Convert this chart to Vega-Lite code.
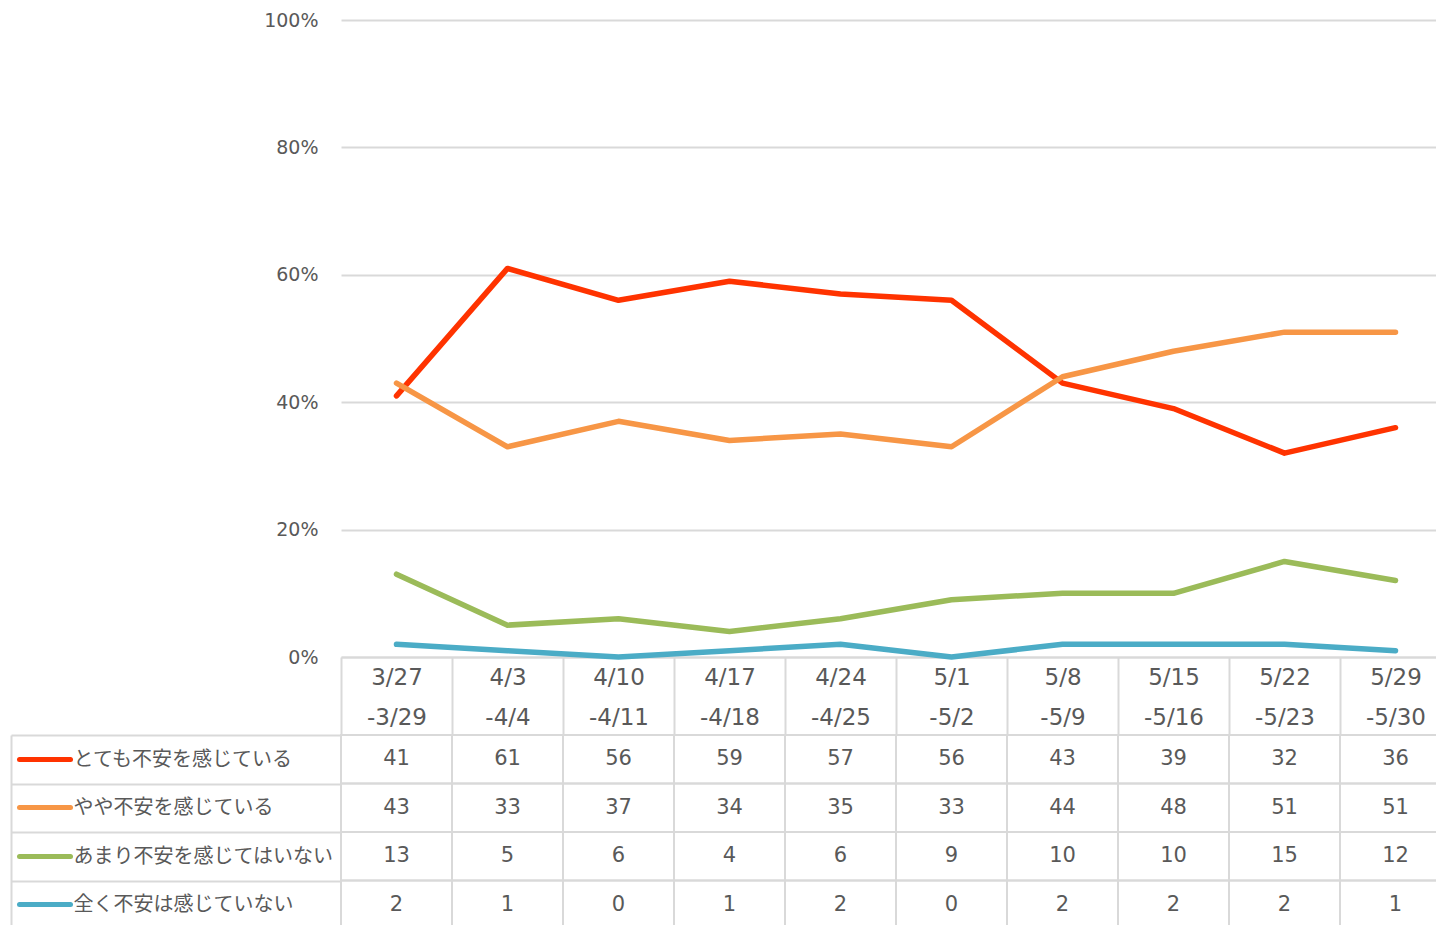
{
  "$schema": "https://vega.github.io/schema/vega-lite/v6.json",
  "background": "white",
  "padding": {"left": 10, "top": 11, "right": 0, "bottom": 0},
  "config": {"view": {"stroke": null}, "font": "DejaVu Sans, Noto Sans CJK JP"},
  "data": {"values": [
    {"period": "3/27|-3/29", "series": "とても不安を感じている", "value": 41},
    {"period": "4/3|-4/4", "series": "とても不安を感じている", "value": 61},
    {"period": "4/10|-4/11", "series": "とても不安を感じている", "value": 56},
    {"period": "4/17|-4/18", "series": "とても不安を感じている", "value": 59},
    {"period": "4/24|-4/25", "series": "とても不安を感じている", "value": 57},
    {"period": "5/1|-5/2", "series": "とても不安を感じている", "value": 56},
    {"period": "5/8|-5/9", "series": "とても不安を感じている", "value": 43},
    {"period": "5/15|-5/16", "series": "とても不安を感じている", "value": 39},
    {"period": "5/22|-5/23", "series": "とても不安を感じている", "value": 32},
    {"period": "5/29|-5/30", "series": "とても不安を感じている", "value": 36},
    {"period": "3/27|-3/29", "series": "やや不安を感じている", "value": 43},
    {"period": "4/3|-4/4", "series": "やや不安を感じている", "value": 33},
    {"period": "4/10|-4/11", "series": "やや不安を感じている", "value": 37},
    {"period": "4/17|-4/18", "series": "やや不安を感じている", "value": 34},
    {"period": "4/24|-4/25", "series": "やや不安を感じている", "value": 35},
    {"period": "5/1|-5/2", "series": "やや不安を感じている", "value": 33},
    {"period": "5/8|-5/9", "series": "やや不安を感じている", "value": 44},
    {"period": "5/15|-5/16", "series": "やや不安を感じている", "value": 48},
    {"period": "5/22|-5/23", "series": "やや不安を感じている", "value": 51},
    {"period": "5/29|-5/30", "series": "やや不安を感じている", "value": 51},
    {"period": "3/27|-3/29", "series": "あまり不安を感じてはいない", "value": 13},
    {"period": "4/3|-4/4", "series": "あまり不安を感じてはいない", "value": 5},
    {"period": "4/10|-4/11", "series": "あまり不安を感じてはいない", "value": 6},
    {"period": "4/17|-4/18", "series": "あまり不安を感じてはいない", "value": 4},
    {"period": "4/24|-4/25", "series": "あまり不安を感じてはいない", "value": 6},
    {"period": "5/1|-5/2", "series": "あまり不安を感じてはいない", "value": 9},
    {"period": "5/8|-5/9", "series": "あまり不安を感じてはいない", "value": 10},
    {"period": "5/15|-5/16", "series": "あまり不安を感じてはいない", "value": 10},
    {"period": "5/22|-5/23", "series": "あまり不安を感じてはいない", "value": 15},
    {"period": "5/29|-5/30", "series": "あまり不安を感じてはいない", "value": 12},
    {"period": "3/27|-3/29", "series": "全く不安は感じていない", "value": 2},
    {"period": "4/3|-4/4", "series": "全く不安は感じていない", "value": 1},
    {"period": "4/10|-4/11", "series": "全く不安は感じていない", "value": 0},
    {"period": "4/17|-4/18", "series": "全く不安は感じていない", "value": 1},
    {"period": "4/24|-4/25", "series": "全く不安は感じていない", "value": 2},
    {"period": "5/1|-5/2", "series": "全く不安は感じていない", "value": 0},
    {"period": "5/8|-5/9", "series": "全く不安は感じていない", "value": 2},
    {"period": "5/15|-5/16", "series": "全く不安は感じていない", "value": 2},
    {"period": "5/22|-5/23", "series": "全く不安は感じていない", "value": 2},
    {"period": "5/29|-5/30", "series": "全く不安は感じていない", "value": 1}
  ]},
  "bounds": "flush",
  "spacing": 78,
  "vconcat": [
    {
      "width": 1110,
      "height": 637,
      "mark": {"type": "line", "strokeWidth": 5.5, "strokeCap": "round", "strokeJoin": "round"},
      "encoding": {
        "x": {
          "field": "period", "type": "ordinal", "sort": null,
          "scale": {"type": "band", "paddingInner": 0, "paddingOuter": 0},
          "axis": {
            "title": null, "labelExpr": "split(datum.label, '|')", "labelAngle": 0,
            "labelFontSize": 23, "labelColor": "#595959", "labelLineHeight": 40,
            "labelBaseline": "middle", "labelPadding": -58, "labelOverlap": false,
            "tickBand": "extent", "tickSize": 78, "tickColor": "#d9d9d9", "tickWidth": 2,
            "domainColor": "#d9d9d9", "domainWidth": 2, "grid": false
          }
        },
        "y": {
          "field": "value", "type": "quantitative", "scale": {"domain": [0, 100]},
          "axis": {
            "title": null, "values": [0, 20, 40, 60, 80, 100], "labelExpr": "datum.value + '%'",
            "labelFontSize": 19, "labelColor": "#595959", "labelPadding": 23,
            "ticks": false, "domain": false, "gridColor": "#d9d9d9", "gridWidth": 2
          }
        },
        "color": {
          "field": "series", "type": "nominal",
          "scale": {
            "domain": ["とても不安を感じている", "やや不安を感じている", "あまり不安を感じてはいない", "全く不安は感じていない"],
            "range": ["#ff3300", "#f79646", "#9bbb59", "#4bacc6"]
          },
          "legend": null
        }
      }
    },
    {
      "width": 1110,
      "height": 194,
      "resolve": {"axis": {"y": "independent"}},
      "layer": [
        {
          "mark": {"type": "rect", "filled": false, "stroke": "#d9d9d9", "strokeWidth": 2},
          "encoding": {
            "x": {"field": "period", "type": "ordinal", "sort": null,
                  "scale": {"type": "band", "paddingInner": 0, "paddingOuter": 0}, "axis": null},
            "y": {
              "field": "series", "type": "nominal",
              "sort": ["とても不安を感じている", "やや不安を感じている", "あまり不安を感じてはいない", "全く不安は感じていない"],
              "scale": {"type": "band", "paddingInner": 0, "paddingOuter": 0},
              "axis": {
                "title": null, "orient": "left", "offset": 271, "labels": false, "domain": false, "grid": false,
                "tickSize": 51, "tickWidth": 5, "tickCap": "round",
                "tickColor": {"expr": "datum.value === 'とても不安を感じている' ? '#ff3300' : datum.value === 'やや不安を感じている' ? '#f79646' : datum.value === 'あまり不安を感じてはいない' ? '#9bbb59' : '#4bacc6'"}
              }
            }
          }
        },
        {
          "mark": {"type": "text", "fontSize": 21, "color": "#595959"},
          "encoding": {
            "x": {"field": "period", "type": "ordinal", "sort": null, "axis": null},
            "y": {
              "field": "series", "type": "nominal",
              "sort": ["とても不安を感じている", "やや不安を感じている", "あまり不安を感じてはいない", "全く不安は感じていない"],
              "axis": {
                "title": null, "orient": "right", "offset": -1440, "tickBand": "extent",
                "tickSize": 330, "tickColor": "#d9d9d9", "tickWidth": 2,
                "domainColor": "#d9d9d9", "domainWidth": 2, "grid": false,
                "labelAlign": "left", "labelPadding": -268, "labelFontSize": 20,
                "labelColor": "#595959", "labelBaseline": "middle", "labelLimit": 0
              }
            },
            "text": {"field": "value", "type": "quantitative"}
          }
        }
      ]
    }
  ]
}
